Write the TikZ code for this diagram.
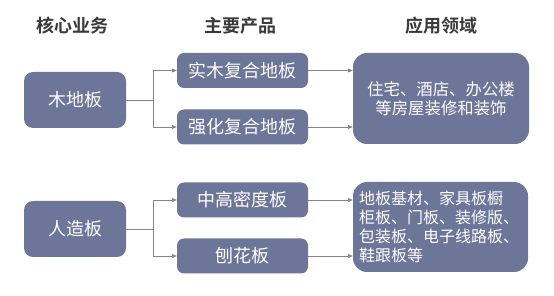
\documentclass[tikz,border=0pt]{standalone}
\usepackage{fontspec}
\setmainfont{Noto Sans CJK SC}
\newfontfamily\cjk{Noto Sans CJK SC}
\newfontfamily\cjkbold{Noto Sans CJK SC Bold}
\usetikzlibrary{arrows.meta}
\definecolor{boxblue}{HTML}{6D7699}
\definecolor{linegray}{HTML}{858585}
\definecolor{headgray}{HTML}{3A3A3A}
\tikzset{
  head/.style={font=\cjkbold\fontsize{18}{20}\selectfont, text=headgray, inner sep=0pt},
  core/.style={draw=none, fill=boxblue, rounded corners=9pt, minimum width=102pt, minimum height=56pt, text=white, font=\cjk\fontsize{18}{20}\selectfont, inner sep=0pt},
  prod/.style={draw=none, fill=boxblue, rounded corners=7pt, minimum width=131pt, minimum height=35pt, text=white, font=\cjk\fontsize{18}{20}\selectfont, inner sep=0pt},
  appl/.style={draw=none, fill=boxblue, rounded corners=14pt, minimum width=176pt, minimum height=91pt, text=white, font=\cjk\fontsize{16.4}{19}\selectfont, inner sep=0pt},
  conn/.style={draw=linegray, line width=0.9pt, -{Triangle[length=5pt,width=4pt]}},
  seg/.style={draw=linegray, line width=0.9pt},
}
\begin{document}
\begin{tikzpicture}[x=1pt,y=-1pt]
\useasboundingbox (0,0) rectangle (554,296);
\node[head] (h1) at (72.5,26) {核心业务};
\node[head] (h2) at (240,26) {主要产品};
\node[head] (h3) at (441,26) {应用领域};

\node[core] (wood) at (75,100) {木地板};
\node[prod] (p1) at (242.5,70.5) {实木复合地板};
\node[prod] (p2) at (242.5,127) {强化复合地板};
\node[appl, align=center] (a1) at (441,98.5) {住宅、酒店、办公楼\\等房屋装修和装饰};

\node[core] (ren) at (75,229) {人造板};
\node[prod] (p3) at (242.5,200) {中高密度板};
\node[prod] (p4) at (242.5,256) {刨花板};
\node[appl, minimum width=175pt, minimum height=90pt] (a2) at (440.5,227) {};
\node[font=\cjk\fontsize{16}{19}\selectfont, text=white, align=left, anchor=north west, inner sep=0pt] (a2t) at (359,191) {地板基材、家具板橱\\柜板、门板、装修版、\\包装板、电子线路板、\\鞋跟板等};

\coordinate (b1) at (153,100);
\coordinate (b2) at (153,229);
\draw[seg] (wood.east) -- (b1);
\draw[conn] (b1) |- (p1.west);
\draw[conn] (b1) |- (p2.west);
\draw[seg] (ren.east) -- (b2);
\draw[conn] (b2) |- (p3.west);
\draw[conn] (b2) |- (p4.west);

\draw[conn] (p1.east) -- (p1.east -| a1.west);
\draw[conn] (p2.east) -- (p2.east -| a1.west);
\draw[conn] (p3.east) -- (p3.east -| a2.west);
\draw[conn] (p4.east) -- (p4.east -| a2.west);
\end{tikzpicture}
\end{document}
